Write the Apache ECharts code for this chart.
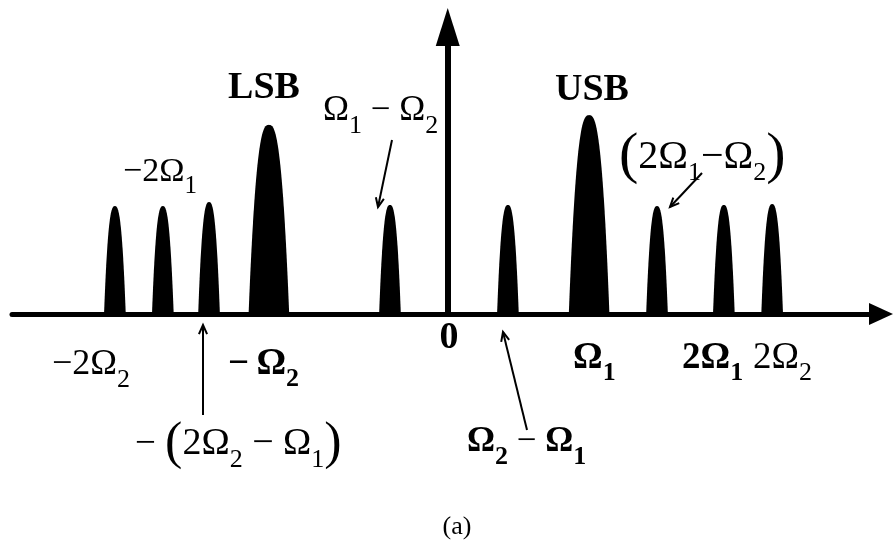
<!DOCTYPE html>
<html><head><meta charset="utf-8">
<script src="https://cdn.jsdelivr.net/npm/echarts@6/dist/echarts.min.js"></script>
<style>html,body{margin:0;padding:0;background:#fff}#c{width:893px;height:549px}</style>
</head><body><div id="c"></div>
<script>
// Spectral components (schematic): frequency position and relative amplitude
const peakNames = ['−2Ω2', '−2Ω1', '−(2Ω2−Ω1)', '−Ω2 (LSB)', 'Ω1−Ω2', 'Ω2−Ω1', 'Ω1 (USB)', '2Ω1−Ω2', '2Ω1', '2Ω2'];
const peakFreq = [-9.51, -8.14, -6.82, -5.11, -1.65, 1.72, 4.04, 5.98, 7.89, 9.27];
const peakAmp  = [3.76, 3.76, 3.90, 6.59, 3.80, 3.80, 6.93, 3.76, 3.80, 3.83];
const xRange = [-12.45, 12.38];
const yRange = [0, 10];

const FONT = 'Liberation Serif';
const chart = echarts.init(document.getElementById('c'), null, {renderer: 'canvas'});

function renderPeak(params, api) {
  const c = api.value(0), h = api.value(1);
  const hw = h > 5 ? 0.58 : 0.31;
  const pts = [];
  const N = 60;
  for (let i = 0; i <= N; i++) {
    const t = -1 + 2 * i / N;
    pts.push(api.coord([c + hw * t, h * (1 - Math.pow(Math.abs(t), 2.7))]));
  }
  return {type: 'polygon', shape: {points: pts}, style: {fill: '#000'}};
}

function label(x, y, align, parts) {
  const rich = {}; let text = '';
  parts.forEach((p, i) => {
    const [str, size, bold, sub] = p;
    const key = 't' + i;
    const st = {fontFamily: FONT, fontSize: size, fontWeight: bold ? 'bold' : 'normal', fill: '#000', lineHeight: 70};
    if (sub) { st.verticalAlign = 'top'; st.padding = [35 + sub - size / 2, 0, 0, 0]; }
    rich[key] = st;
    text += '{' + key + '|' + str + '}';
  });
  return {type: 'text', z: 1, style: {x: x, y: y, text: text, rich: rich, align: align, verticalAlign: 'middle', textAlign: align, textVerticalAlign: 'middle', fill: '#000'}};
}

function arrow(x1, y1, x2, y2) {
  const ang = Math.atan2(y2 - y1, x2 - x1), L = 10, A = 0.42;
  const p1 = [x2 - L * Math.cos(ang - A), y2 - L * Math.sin(ang - A)];
  const p2 = [x2 - L * Math.cos(ang + A), y2 - L * Math.sin(ang + A)];
  return [
    {type: 'line', z: 2, shape: {x1: x1, y1: y1, x2: x2, y2: y2}, style: {stroke: '#000', lineWidth: 2}},
    {type: 'polyline', z: 2, shape: {points: [p1, [x2, y2], p2]}, style: {stroke: '#000', lineWidth: 2, fill: null}}
  ];
}

const graphics = [
  label(264, 88, 'center', [['LSB', 38, true]]),
  label(592, 90, 'center', [['USB', 38, true]]),
  label(323, 111, 'left', [['Ω', 35], ['1', 26, false, 15], [' − Ω', 35], ['2', 26, false, 15]]),
  label(123, 172, 'left', [['−2Ω', 34], ['1', 25, false, 14]]),
  label(619, 157, 'left', [['(', 58], ['2Ω', 40], ['1', 26, false, 16], ['−Ω', 40], ['2', 26, false, 16], [')', 58]]),
  label(52, 365, 'left', [['−2Ω', 36], ['2', 26, false, 15]]),
  label(228, 364, 'left', [['−\u2009Ω', 37, true], ['2', 26, true, 15]]),
  label(135, 444, 'left', [['− ', 37], ['(', 52], ['2Ω', 38], ['2', 26, false, 16], [' − Ω', 38], ['1', 26, false, 16], [')', 52]]),
  label(449, 338, 'center', [['0', 38, true]]),
  label(573, 358, 'left', [['Ω', 37, true], ['1', 26, true, 15]]),
  label(682, 358, 'left', [['2Ω', 37, true], ['1', 26, true, 15]]),
  label(753, 358, 'left', [['2Ω', 37], ['2', 26, false, 15]]),
  label(467, 442, 'left', [['Ω', 35, true], ['2', 26, true, 15], [' − ', 35], ['Ω', 35, true], ['1', 26, true, 15]]),
  label(457, 527, 'center', [['(a)', 26]])
].concat(
  arrow(392, 140, 378, 207),
  arrow(702, 173, 670, 207),
  arrow(203, 415, 203, 325),
  arrow(527, 430, 503, 332)
);

const option = {
  backgroundColor: '#fff',
  animation: false,
  grid: {left: 12, right: 12, top: 27, bottom: 235, containLabel: false, outerBoundsMode: 'none'},
  xAxis: {
    type: 'value', min: xRange[0], max: xRange[1], z: 10,
    axisLine: {show: true, onZero: true, symbol: ['none', 'triangle'], symbolSize: [22, 24],
      lineStyle: {color: '#000', width: 5, cap: 'round'}},
    axisTick: {show: false}, axisLabel: {show: false}, splitLine: {show: false}
  },
  yAxis: {
    type: 'value', min: yRange[0], max: yRange[1], z: 10,
    axisLine: {show: true, onZero: true, symbol: ['none', 'triangle'], symbolSize: [24, 38],
      lineStyle: {color: '#000', width: 6}},
    axisTick: {show: false}, axisLabel: {show: false}, splitLine: {show: false}
  },
  series: [{
    type: 'custom', name: 'spectrum', z: 5,
    renderItem: renderPeak,
    encode: {x: 0, y: 1},
    data: peakFreq.map((f, i) => [f, peakAmp[i], peakNames[i]])
  }],
  graphic: graphics
};
chart.setOption(option);
</script>
</body></html>
